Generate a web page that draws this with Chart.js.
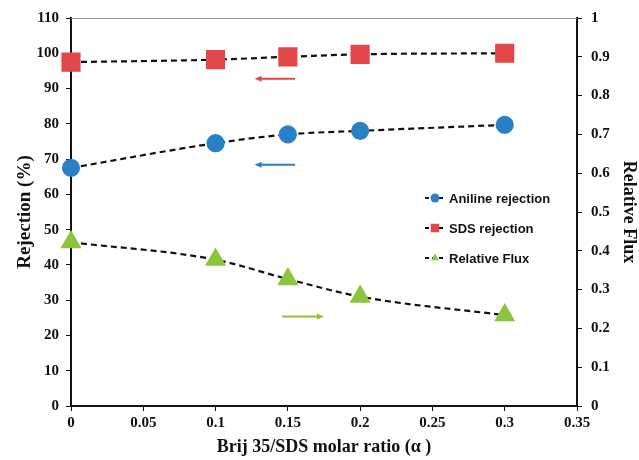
<!DOCTYPE html>
<html>
<head>
<meta charset="utf-8">
<script src="https://cdn.jsdelivr.net/npm/chart.js@4"></script>
<style>
  html, body { margin: 0; padding: 0; background: #fff; }
  #wrap { width: 639px; height: 460px; }
</style>
</head>
<body>
<div id="wrap"><canvas id="myChart"></canvas></div>
<script>
const ratios = [0, 0.1, 0.15, 0.2, 0.3];
const anilineRejection = [67.5, 74.5, 77, 78, 79.7];
const sdsRejection = [97.5, 98.2, 99, 99.7, 100];
const relativeFlux = [0.422, 0.377, 0.327, 0.282, 0.234];

const blue = '#2b7fc6';
const red = '#e2474a';
const green = '#8cc43f';

const serifBold = { family: '"Liberation Serif", "Times New Roman", serif', weight: 'bold' };

function pts(ys) {
  return ratios.map((x, i) => ({ x: x, y: ys[i] }));
}

const dashed = {
  borderColor: '#111',
  borderWidth: 2.2,
  borderDash: [6, 4],
  showLine: true,
  clip: false,
};

// arrows pointing to each series' axis
const arrows = [
  { x1: 0.155, x2: 0.127, y: 92.8, color: red },
  { x1: 0.155, x2: 0.127, y: 68.4, color: blue },
  { x1: 0.146, x2: 0.175, y: 25.4, color: green },
];

const legendItems = [
  { label: 'Aniline rejection', color: blue, style: 'circle' },
  { label: 'SDS rejection', color: red, style: 'rect' },
  { label: 'Relative Flux', color: green, style: 'triangle' },
];

const fmt = v => String(Number(v.toFixed(2)));

const extras = {
  id: 'extras',
  beforeDatasetsDraw(chart) {
    const c = chart.ctx;
    const area = chart.chartArea;
    c.save();
    c.strokeStyle = '#999';
    c.lineWidth = 1;
    c.beginPath();
    c.moveTo(area.left, area.top + 0.5);
    c.lineTo(area.right, area.top + 0.5);
    c.stroke();
    c.restore();
  },
  afterDatasetsDraw(chart) {
    const c = chart.ctx;
    const xs = chart.scales.x, ys = chart.scales.y;
    const area = chart.chartArea;
    c.save();
    arrows.forEach(a => {
      const px1 = xs.getPixelForValue(a.x1);
      const px2 = xs.getPixelForValue(a.x2);
      const py = ys.getPixelForValue(a.y);
      const dir = Math.sign(px2 - px1);
      c.strokeStyle = a.color;
      c.fillStyle = a.color;
      c.lineWidth = 2;
      c.beginPath();
      c.moveTo(px1, py);
      c.lineTo(px2 - dir * 5, py);
      c.stroke();
      c.beginPath();
      c.moveTo(px2, py);
      c.lineTo(px2 - dir * 7, py - 3);
      c.lineTo(px2 - dir * 7, py + 3);
      c.closePath();
      c.fill();
    });

    // legend
    const lx = area.left + 354, ly0 = area.top + 180, gap = 30;
    c.font = 'bold 13px "Liberation Sans", Arial, sans-serif';
    c.textBaseline = 'middle';
    legendItems.forEach((it, i) => {
      const y = ly0 + i * gap;
      c.strokeStyle = '#111';
      c.lineWidth = 2;
      c.setLineDash([4, 3]);
      c.beginPath();
      c.moveTo(lx, y);
      c.lineTo(lx + 20, y);
      c.stroke();
      c.setLineDash([]);
      c.fillStyle = it.color;
      Chart.helpers.drawPoint(c, { pointStyle: it.style, radius: it.style === 'rect' ? 6 : 4.5, borderWidth: 0 }, lx + 10, y);
      c.fillStyle = '#111';
      c.fillText(it.label, lx + 24, y + 1);
    });
    c.restore();
  }
};

const ctx = document.getElementById('myChart');

new Chart(ctx, {
  type: 'scatter',
  data: {
    datasets: [
      Object.assign({
        label: 'Aniline rejection',
        data: pts(anilineRejection),
        yAxisID: 'y',
        pointStyle: 'circle',
        pointRadius: 8,
        pointBackgroundColor: blue,
        pointBorderColor: blue,
        cubicInterpolationMode: 'monotone',
      }, dashed),
      Object.assign({
        label: 'SDS rejection',
        data: pts(sdsRejection),
        yAxisID: 'y',
        pointStyle: 'rect',
        pointRadius: 12,
        pointBackgroundColor: red,
        pointBorderColor: red,
        cubicInterpolationMode: 'monotone',
      }, dashed),
      Object.assign({
        label: 'Relative Flux',
        data: pts(relativeFlux),
        yAxisID: 'y1',
        pointStyle: 'triangle',
        pointRadius: 10,
        pointBackgroundColor: green,
        pointBorderColor: green,
        cubicInterpolationMode: 'monotone',
      }, dashed),
    ]
  },
  options: {
    responsive: true,
    maintainAspectRatio: false,
    animation: false,
    layout: { padding: { top: 17, right: 0, left: 0, bottom: 0 } },
    plugins: {
      legend: { display: false },
      tooltip: { enabled: false },
    },
    scales: {
      x: {
        type: 'linear',
        min: 0,
        max: 0.35,
        ticks: { stepSize: 0.05, color: '#111', font: Object.assign({ size: 15 }, serifBold), padding: 3, callback: fmt },
        grid: { drawOnChartArea: false, color: '#111', tickLength: 5 },
        border: { color: '#111', width: 2 },
        title: { display: true, text: 'Brij 35/SDS molar ratio (α )', color: '#111', font: Object.assign({ size: 18 }, serifBold), padding: { top: 0, bottom: 2 } },
        afterFit(s) { s.height = 54; },
      },
      y: {
        position: 'left',
        min: 0,
        max: 110,
        ticks: { stepSize: 10, color: '#111', font: Object.assign({ size: 15 }, serifBold), padding: 7, callback: fmt },
        grid: { drawOnChartArea: false, color: '#111', tickLength: 5 },
        border: { color: '#111', width: 2 },
        title: { display: true, text: 'Rejection (%)', color: '#111', font: Object.assign({ size: 19 }, serifBold), padding: { top: 14, bottom: 10 } },
        afterFit(s) { s.width = 71; },
      },
      y1: {
        position: 'right',
        min: 0,
        max: 1,
        ticks: { stepSize: 0.1, color: '#111', font: Object.assign({ size: 15 }, serifBold), padding: 9, callback: fmt },
        grid: { drawOnChartArea: false, color: '#111', tickLength: 5 },
        border: { color: '#111', width: 2 },
        title: { display: true, text: 'Relative Flux', color: '#111', font: Object.assign({ size: 18 }, serifBold), padding: { top: 0, bottom: 0 } },
        afterFit(s) { s.width = 62; },
      },
    }
  },
  plugins: [extras]
});
</script>
</body>
</html>
